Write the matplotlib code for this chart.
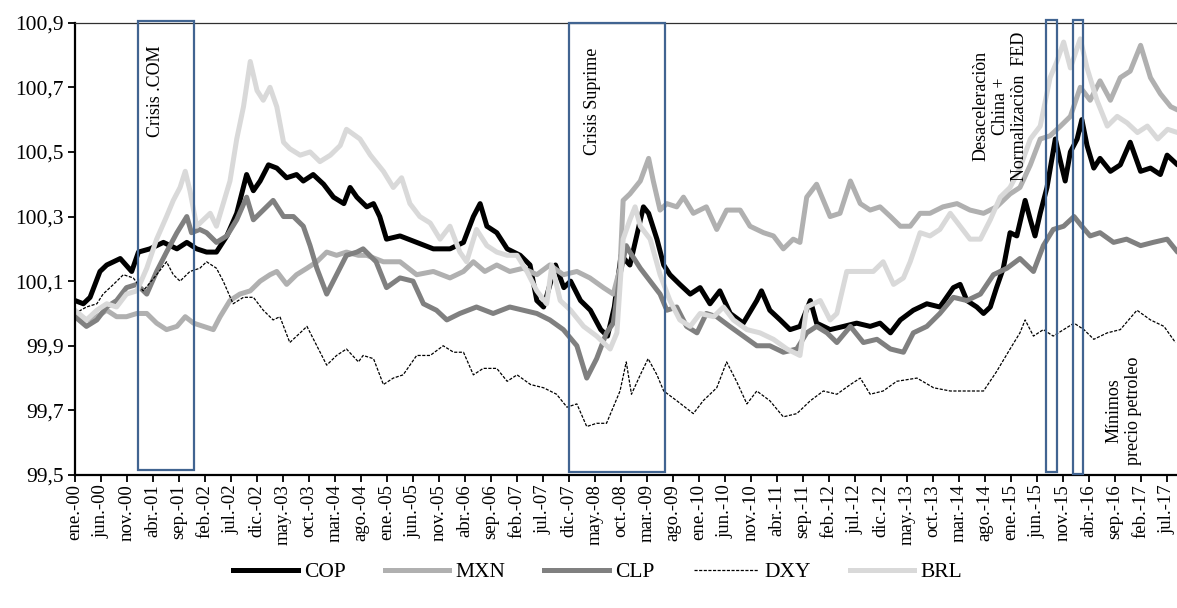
import matplotlib
matplotlib.use('Agg')
import matplotlib.pyplot as plt
from matplotlib.patches import Rectangle
from matplotlib.lines import Line2D

plt.rcParams['font.family'] = ['Liberation Serif', 'DejaVu Serif']

# ---------------- data (x = months since ene.-2000) ----------------
COP_m = [0, 1.6, 2.9, 4.8, 6.1, 8.7, 10.9, 12.2, 14.4, 17,
         19.6, 21.5, 23.4, 25.3, 27.2, 29.2, 31.1, 33, 34.3, 35.6,
         37.2, 38.8, 40.7, 42.6, 43.9, 45.8, 47.8, 49.7, 51.7, 52.9,
         54.2, 56.1, 57.4, 58.6, 59.9, 62.5, 65.7, 68.9, 72.1, 74.7,
         76.6, 77.9, 79.2, 81.1, 83.1, 85.6, 87.5, 88.8, 90.1, 92.4,
         94, 95.3, 97.2, 99.1, 101.1, 102.4, 103.7, 105, 106.7, 109.3,
         110.3, 111.9, 113.2, 114.4, 116.3, 118.3, 120.2, 122.1, 124, 126,
         128.5, 131.1, 132, 133.6, 135.6, 137.5, 139.4, 141.4, 142.6, 145.2,
         147.8, 150.3, 152.9, 154.8, 156.8, 158.7, 161.2, 163.8, 166.3, 168.9,
         170.2, 171.5, 173.4, 174.7, 176, 177.2, 178.5, 179.8, 181.1, 182.7,
         183.7, 184.6, 185.6, 186.9, 188.5, 189.5, 190.4, 191.4, 192.7, 193.6,
         194.6, 195.9, 197.1, 199.1, 201, 202.9, 204.9, 206.8, 208.7, 210,
         212]
COP_v = [100.04, 100.03, 100.05, 100.13, 100.15, 100.17, 100.13, 100.19, 100.20, 100.22,
         100.20, 100.22, 100.20, 100.19, 100.19, 100.24, 100.31, 100.43, 100.38, 100.41,
         100.46, 100.45, 100.42, 100.43, 100.41, 100.43, 100.40, 100.36, 100.34, 100.39,
         100.36, 100.33, 100.34, 100.30, 100.23, 100.24, 100.22, 100.20, 100.20, 100.22,
         100.30, 100.34, 100.27, 100.25, 100.20, 100.18, 100.15, 100.04, 100.02, 100.15,
         100.08, 100.10, 100.04, 100.01, 99.95, 99.93, 100.02, 100.18, 100.15, 100.33,
         100.31, 100.23, 100.15, 100.12, 100.09, 100.06, 100.08, 100.03, 100.07, 100.00,
         99.97, 100.04, 100.07, 100.01, 99.98, 99.95, 99.96, 100.04, 99.97, 99.95,
         99.96, 99.97, 99.96, 99.97, 99.94, 99.98, 100.01, 100.03, 100.02, 100.08,
         100.09, 100.04, 100.02, 100.00, 100.02, 100.08, 100.14, 100.25, 100.24, 100.35,
         100.29, 100.24, 100.31, 100.39, 100.54, 100.47, 100.41, 100.50, 100.54, 100.60,
         100.52, 100.45, 100.48, 100.44, 100.46, 100.53, 100.44, 100.45, 100.43, 100.49,
         100.46]

MXN_m = [0, 2.2, 4.2, 6.1, 8, 9.9, 11.9, 13.8, 15.7, 17.6,
         19.6, 21.2, 22.8, 24.7, 26.6, 27.9, 29.8, 31.7, 33.7, 35.6,
         37.5, 38.8, 40.7, 42.6, 44.6, 46.5, 48.4, 50.3, 52.2, 54.5,
         56.1, 59.3, 62.5, 65.7, 68.9, 72.1, 74.7, 76.6, 78.8, 81.1,
         83.6, 86.2, 88.8, 91.3, 93.9, 96.5, 99, 101.6, 103.5, 104.8,
         105.4, 106.7, 108.7, 110.3, 111.2, 112.5, 113.8, 115.7, 117, 118.9,
         121.4, 123.4, 125.3, 127.9, 129.8, 132.4, 134.3, 136.2, 138.1, 139.4,
         140.7, 142.6, 143.9, 145.2, 147.1, 149.1, 151, 152.9, 154.8, 156.8,
         158.7, 160.6, 162.5, 164.4, 166.9, 169.6, 172.1, 174.7, 177.2, 179.8,
         181.7, 183.7, 185.6, 187.5, 189.5, 191.4, 193.3, 195.2, 197.1, 199.1,
         201, 202.9, 204.9, 206.8, 208.7, 210.7, 212]
MXN_v = [100.00, 99.98, 99.99, 100.01, 99.99, 99.99, 100.00, 100.00, 99.97, 99.95,
         99.96, 99.99, 99.97, 99.96, 99.95, 99.99, 100.04, 100.06, 100.07, 100.10,
         100.12, 100.13, 100.09, 100.12, 100.14, 100.16, 100.19, 100.18, 100.19, 100.18,
         100.18, 100.16, 100.16, 100.12, 100.13, 100.11, 100.13, 100.16, 100.13, 100.15,
         100.13, 100.14, 100.12, 100.15, 100.12, 100.13, 100.11, 100.08, 100.06, 100.14,
         100.35, 100.37, 100.41, 100.48, 100.41, 100.32, 100.34, 100.33, 100.36, 100.31,
         100.33, 100.26, 100.32, 100.32, 100.27, 100.25, 100.24, 100.20, 100.23, 100.22,
         100.36, 100.40, 100.35, 100.30, 100.31, 100.41, 100.34, 100.32, 100.33, 100.30,
         100.27, 100.27, 100.31, 100.31, 100.33, 100.34, 100.32, 100.31, 100.33, 100.37,
         100.39, 100.46, 100.54, 100.55, 100.58, 100.61, 100.70, 100.66, 100.72, 100.66,
         100.73, 100.75, 100.83, 100.73, 100.68, 100.64, 100.63]

CLP_m = [0, 2.2, 4.2, 6.1, 8, 9.9, 11.9, 13.8, 15.7, 17.6,
         19.6, 21.5, 22.4, 24, 25.3, 27.2, 29.2, 31.1, 33, 34.3,
         36.2, 38.1, 40.1, 42, 43.9, 45.2, 46.5, 48.4, 50.3, 52.2,
         54.2, 55.4, 57.9, 59.9, 62.5, 65, 67, 69.5, 71.5, 74,
         77.2, 80.4, 83.6, 86.2, 88.8, 91.3, 93.9, 96.5, 98.4, 100.3,
         102.2, 103.5, 104.8, 106, 106.7, 108.7, 110.6, 112.5, 113.8, 115.7,
         117.6, 119.6, 121.4, 123.4, 125.9, 128.5, 131.1, 133.6, 136.2, 138.8,
         140.7, 142.6, 144.6, 146.5, 149.1, 151.6, 154.2, 156.8, 159.3, 161.2,
         163.8, 166.3, 168.9, 171.5, 174.1, 176.6, 179.2, 181.7, 184.3, 186.2,
         188.1, 190.1, 192.1, 193.6, 195.2, 197.1, 199.7, 202.2, 204.9, 207.3,
         210, 212]
CLP_v = [99.99, 99.96, 99.98, 100.02, 100.04, 100.08, 100.09, 100.06, 100.13, 100.19,
         100.25, 100.30, 100.25, 100.26, 100.25, 100.22, 100.24, 100.29, 100.36, 100.29,
         100.32, 100.35, 100.30, 100.30, 100.27, 100.21, 100.14, 100.06, 100.12, 100.18,
         100.19, 100.20, 100.16, 100.08, 100.11, 100.10, 100.03, 100.01, 99.98, 100.00,
         100.02, 100.00, 100.02, 100.01, 100.00, 99.98, 99.95, 99.90, 99.80, 99.86,
         99.94, 99.97, 100.12, 100.21, 100.19, 100.14, 100.10, 100.06, 100.01, 100.02,
         99.96, 99.94, 100.00, 99.99, 99.96, 99.93, 99.90, 99.90, 99.88, 99.89,
         99.94, 99.96, 99.94, 99.91, 99.96, 99.91, 99.92, 99.89, 99.88, 99.94,
         99.96, 100.00, 100.05, 100.04, 100.06, 100.12, 100.14, 100.17, 100.13, 100.21,
         100.26, 100.27, 100.30, 100.27, 100.24, 100.25, 100.22, 100.23, 100.21, 100.22,
         100.23, 100.19]

DXY_m = [0, 2.2, 4.2, 5.4, 7.4, 9.3, 11.2, 13.1, 15.7, 17.6,
         18.9, 20.2, 22.1, 24, 25.3, 27.2, 28.5, 30.4, 32.4, 34.3,
         36.2, 38.1, 39.4, 41.3, 43.3, 44.6, 46.5, 48.4, 50.3, 52.2,
         54.5, 55.4, 57.4, 59.3, 61.2, 63.1, 65.7, 68.3, 70.8, 72.8,
         74.7, 76.6, 78.5, 81.1, 83.1, 85, 87.6, 90.1, 92.6, 94.6,
         96.5, 98.4, 100.3, 102.2, 103.5, 104.8, 106, 107, 108.7, 110.2,
         111.9, 113.2, 115.7, 118.9, 120.8, 123.4, 125.3, 127.2, 129.2, 131.1,
         133.6, 136.2, 138.8, 141.4, 143.9, 146.5, 149.1, 151, 152.9, 155.4,
         158, 161.9, 165.1, 168.3, 171.5, 174.7, 177.2, 179.8, 181.7, 182.7,
         184.3, 186.2, 188.1, 190.1, 192.1, 194, 195.9, 198.5, 201, 204.2,
         206.8, 209.4, 211.6]
DXY_v = [100.00, 100.02, 100.03, 100.06, 100.09, 100.12, 100.11, 100.07, 100.12, 100.16,
         100.12, 100.10, 100.13, 100.14, 100.16, 100.14, 100.10, 100.03, 100.05, 100.05,
         100.01, 99.98, 99.99, 99.91, 99.94, 99.96, 99.90, 99.84, 99.87, 99.89,
         99.85, 99.87, 99.86, 99.78, 99.80, 99.81, 99.87, 99.87, 99.90, 99.88,
         99.88, 99.81, 99.83, 99.83, 99.79, 99.81, 99.78, 99.77, 99.75, 99.71,
         99.72, 99.65, 99.66, 99.66, 99.71, 99.76, 99.85, 99.75, 99.81, 99.86,
         99.81, 99.76, 99.73, 99.69, 99.73, 99.77, 99.85, 99.79, 99.72, 99.76,
         99.73, 99.68, 99.69, 99.73, 99.76, 99.75, 99.78, 99.80, 99.75, 99.76,
         99.79, 99.80, 99.77, 99.76, 99.76, 99.76, 99.82, 99.89, 99.94, 99.98,
         99.93, 99.95, 99.93, 99.95, 99.97, 99.95, 99.92, 99.94, 99.95, 100.01,
         99.98, 99.96, 99.91]

BRL_m = [0, 2.2, 4.2, 6.1, 8, 9.9, 11.9, 13.8, 15.7, 17.6,
         18.9, 20.2, 21.2, 22.1, 23.4, 24.7, 26, 27.2, 28.5, 29.8,
         31.1, 32.4, 33.7, 35, 36.2, 37.5, 38.8, 40.1, 41.3, 43.3,
         45.2, 47.1, 49.1, 51, 52.2, 54.8, 56.8, 59.3, 61.2, 62.8,
         64.4, 66.3, 68.3, 70.2, 72.1, 74, 75.3, 77.2, 79.2, 81.1,
         83.1, 85, 86.9, 88.8, 90.7, 91.7, 93.3, 95.3, 97.8, 100.3,
         102.9, 104.2, 105.4, 106.7, 107.7, 108.7, 110.6, 112.5, 114.4, 116.3,
         118.3, 120.2, 122.8, 124.7, 126.6, 129.2, 131.7, 134.3, 136.9, 139.4,
         140.7, 142, 143.3, 145.2, 146.5, 148.4, 151, 153.5, 155.4, 157.4,
         159.3, 160.6, 162.5, 164.4, 166.3, 168.3, 170.2, 172.1, 174.1, 176,
         177.9, 179.8, 181.7, 183.7, 185.6, 187.5, 188.8, 190.1, 191.4, 193.3,
         194.6, 196.5, 198.5, 200.4, 202.3, 204.3, 206.2, 208.2, 210.1, 212]
BRL_v = [100.01, 99.98, 100.01, 100.03, 100.02, 100.06, 100.07, 100.14, 100.23, 100.30,
         100.35, 100.39, 100.44, 100.38, 100.27, 100.29, 100.31, 100.27, 100.34, 100.41,
         100.54, 100.64, 100.78, 100.69, 100.66, 100.70, 100.64, 100.53, 100.51, 100.49,
         100.50, 100.47, 100.49, 100.52, 100.57, 100.54, 100.49, 100.44, 100.39, 100.42,
         100.34, 100.30, 100.28, 100.23, 100.27, 100.19, 100.16, 100.26, 100.21, 100.19,
         100.18, 100.18, 100.13, 100.07, 100.03, 100.15, 100.04, 100.01, 99.96, 99.93,
         99.89, 99.94, 100.23, 100.29, 100.33, 100.27, 100.23, 100.12, 100.04, 99.98,
         99.96, 100.00, 99.99, 100.02, 99.98, 99.95, 99.94, 99.92, 99.89, 99.87,
         100.02, 100.03, 100.04, 99.98, 100.00, 100.13, 100.13, 100.13, 100.16, 100.09,
         100.11, 100.16, 100.25, 100.24, 100.26, 100.31, 100.27, 100.23, 100.23, 100.29,
         100.36, 100.39, 100.45, 100.54, 100.58, 100.73, 100.78, 100.84, 100.76, 100.85,
         100.76, 100.66, 100.58, 100.61, 100.59, 100.56, 100.58, 100.54, 100.57, 100.56]

x_tick_labels = ['ene.-00', 'jun.-00', 'nov.-00', 'abr.-01', 'sep.-01', 'feb.-02', 'jul.-02',
                 'dic.-02', 'may.-03', 'oct.-03', 'mar.-04', 'ago.-04', 'ene.-05', 'jun.-05',
                 'nov.-05', 'abr.-06', 'sep.-06', 'feb.-07', 'jul.-07', 'dic.-07', 'may.-08',
                 'oct.-08', 'mar.-09', 'ago.-09', 'ene.-10', 'jun.-10', 'nov.-10', 'abr.-11',
                 'sep.-11', 'feb.-12', 'jul.-12', 'dic.-12', 'may.-13', 'oct.-13', 'mar.-14',
                 'ago.-14', 'ene.-15', 'jun.-15', 'nov.-15', 'abr.-16', 'sep.-16', 'feb.-17',
                 'jul.-17']
y_ticks = [99.5, 99.7, 99.9, 100.1, 100.3, 100.5, 100.7, 100.9]
y_tick_labels = ['99,5', '99,7', '99,9', '100,1', '100,3', '100,5', '100,7', '100,9']

# event boxes: (start month, end month, bottom, top)
boxes = [(12.1, 22.9, 99.515, 100.905),
         (95.0, 113.5, 99.509, 100.900),
         (186.7, 188.8, 99.510, 100.907),
         (191.9, 193.9, 99.503, 100.907)]
notes = [('Crisis .COM', 15.4, 100.687),
         ('Crisis Suprime', 99.6, 100.658),
         ('Desaceleraciòn\nChina +\nNormalizaciòn  FED', 177.9, 100.642),
         ('Mínimos\nprecio petroleo', 201.7, 99.70)]

# ---------------- figure ----------------
W, H = 1177, 608
fig = plt.figure(figsize=(W / 100, H / 100), dpi=100)
ax = fig.add_axes([75 / W, 133 / H, 1102 / W, 452.3 / H])

series = [
    ('COP', COP_m, COP_v, dict(color='black', lw=3.6)),
    ('MXN', MXN_m, MXN_v, dict(color='#B0B0B0', lw=3.6)),
    ('CLP', CLP_m, CLP_v, dict(color='#808080', lw=3.6)),
    ('DXY', DXY_m, DXY_v, dict(color='black', lw=0.9, linestyle=(0, (2.5, 1.2)))),
    ('BRL', BRL_m, BRL_v, dict(color='#D9D9D9', lw=3.6)),
]
handles = []
for name, xm, yv, st in series:
    ax.plot(xm, yv, solid_joinstyle='round', solid_capstyle='round', **st)
    handles.append(Line2D([], [], **st))

for x0, x1, y0, y1 in boxes:
    ax.add_patch(Rectangle((x0, y0), x1 - x0, y1 - y0, fill=False,
                           ec='#416491', lw=1.6, clip_on=False, zorder=6))

for txt, xm, yv in notes:
    ax.text(xm, yv, txt, rotation=90, ha='center', va='center',
            multialignment='center', fontsize=13, linespacing=1.15, zorder=7)

ax.set_xlim(0, 211.9)
ax.set_ylim(99.5, 100.9)
ax.set_xticks(list(range(0, 5 * len(x_tick_labels), 5)))
ax.set_xticklabels(x_tick_labels, rotation=90, fontsize=13.5, va='top', ha='center')
ax.set_yticks(y_ticks)
ax.set_yticklabels(y_tick_labels, fontsize=15.5)
ax.tick_params(axis='both', direction='out', length=5, width=1.3, color='black')
ax.tick_params(axis='x', pad=1.5)
ax.tick_params(axis='y', pad=3)

ax.spines['left'].set_linewidth(1.6)
ax.spines['bottom'].set_linewidth(1.6)
ax.spines['top'].set_linewidth(0.9)
ax.spines['top'].set_color('#303030')
ax.spines['right'].set_visible(False)

fig.legend(handles, [s[0] for s in series], loc='center', bbox_to_anchor=(0.508, 0.059),
           ncol=5, frameon=False, fontsize=15.5, handlelength=3.0, handletextpad=0.3,
           columnspacing=1.8)

fig.savefig('out.png', dpi=100)
